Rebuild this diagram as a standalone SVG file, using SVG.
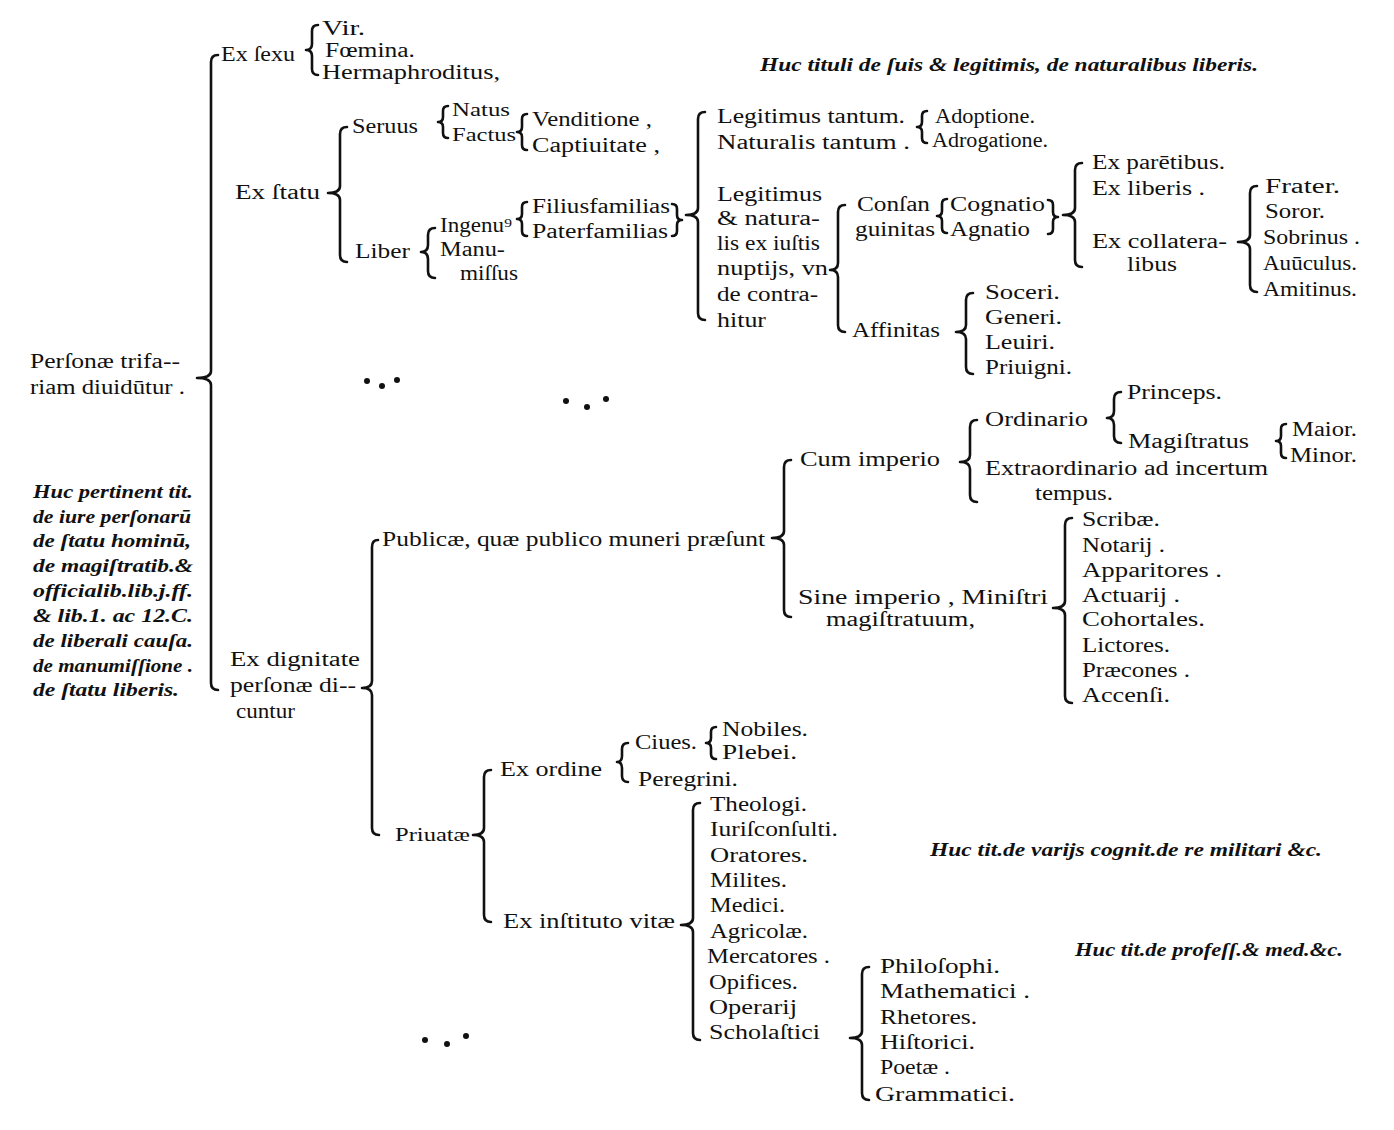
<svg xmlns="http://www.w3.org/2000/svg" width="1394" height="1130" viewBox="0 0 1394 1130">
<style>
text{font-family:"Liberation Serif","Times New Roman",serif;font-size:20px;fill:#111}
text.i{font-style:italic;font-weight:bold;font-size:18px}
text.s{font-size:18px}
#connectors path{fill:none;stroke:#111;stroke-width:2.6;stroke-linecap:round;stroke-linejoin:round}
.dot{fill:#111}
</style>
<rect width="1394" height="1130" fill="#fff"/>
<g id="connectors">
<path d="M218,55 Q211,55 211,62 L211,371 Q211,378 197,378 Q211,378 211,385 L211,683 Q211,690 218,690"/>
<path d="M318,25 Q312,25 312,31 L312,44 Q312,50 306,50 Q312,50 312,56 L312,69 Q312,75 318,75"/>
<path d="M347,127 Q340,127 340,134 L340,186 Q340,193 328,193 Q340,193 340,200 L340,255 Q340,262 347,262"/>
<path d="M448,106 Q443,106 443,111 L443,117 Q443,122 438,122 Q443,122 443,127 L443,133 Q443,138 448,138"/>
<path d="M527,114 Q522,114 522,119 L522,127 Q522,132 517,132 Q522,132 522,137 L522,145 Q522,150 527,150"/>
<path d="M435,228 Q428,228 428,235 L428,245 Q428,252 421,252 Q428,252 428,259 L428,271 Q428,278 435,278"/>
<path d="M527,202 Q522,202 522,207 L522,214 Q522,219 517,219 Q522,219 522,224 L522,231 Q522,236 527,236"/>
<path d="M672,204 Q677,204 677,209 L677,215 Q677,220 682,220 Q677,220 677,225 L677,231 Q677,236 672,236"/>
<path d="M705,112 Q698,112 698,119 L698,208 Q698,215 686,215 Q698,215 698,222 L698,313 Q698,320 705,320"/>
<path d="M927,111 Q922,111 922,116 L922,122 Q922,127 917,127 Q922,127 922,132 L922,138 Q922,143 927,143"/>
<path d="M845,205 Q838,205 838,212 L838,263 Q838,270 830,270 Q838,270 838,277 L838,325 Q838,332 845,332"/>
<path d="M947,199 Q942,199 942,204 L942,211 Q942,216 937,216 Q942,216 942,221 L942,228 Q942,233 947,233"/>
<path d="M1048,200 Q1053,200 1053,205 L1053,212 Q1053,217 1058,217 Q1053,217 1053,222 L1053,229 Q1053,234 1048,234"/>
<path d="M1082,163 Q1075,163 1075,170 L1075,208 Q1075,215 1063,215 Q1075,215 1075,222 L1075,260 Q1075,267 1082,267"/>
<path d="M1257,186 Q1250,186 1250,193 L1250,235 Q1250,242 1238,242 Q1250,242 1250,249 L1250,285 Q1250,292 1257,292"/>
<path d="M973,293 Q966,293 966,300 L966,325 Q966,332 956,332 Q966,332 966,339 L966,367 Q966,374 973,374"/>
<path d="M1121,392 Q1114,392 1114,399 L1114,411 Q1114,418 1107,418 Q1114,418 1114,425 L1114,436 Q1114,443 1121,443"/>
<path d="M977,420 Q970,420 970,427 L970,455 Q970,462 960,462 Q970,462 970,469 L970,495 Q970,502 977,502"/>
<path d="M1286,424 Q1281,424 1281,429 L1281,436 Q1281,441 1276,441 Q1281,441 1281,446 L1281,453 Q1281,458 1286,458"/>
<path d="M791,460 Q784,460 784,467 L784,531 Q784,538 772,538 Q784,538 784,545 L784,610 Q784,617 791,617"/>
<path d="M1072,518 Q1065,518 1065,525 L1065,601 Q1065,608 1053,608 Q1065,608 1065,615 L1065,696 Q1065,703 1072,703"/>
<path d="M378,540 Q372,540 372,547 L372,681 Q372,688 362,688 Q372,688 372,695 L372,828 Q372,835 379,835"/>
<path d="M491,770 Q484,770 484,777 L484,828 Q484,835 473,835 Q484,835 484,842 L484,915 Q484,922 491,922"/>
<path d="M628,743 Q622,743 622,749 L622,756 Q622,762 617,762 Q622,762 622,768 L622,776 Q622,782 628,782"/>
<path d="M716,727 Q711,727 711,732 L711,738 Q711,743 706,743 Q711,743 711,748 L711,754 Q711,759 716,759"/>
<path d="M700,803 Q693,803 693,810 L693,918 Q693,925 681,925 Q693,925 693,932 L693,1033 Q693,1040 700,1040"/>
<path d="M869,967 Q862,967 862,974 L862,1031 Q862,1038 850,1038 Q862,1038 862,1045 L862,1093 Q862,1100 869,1100"/>
</g>
<g id="dots">
<circle class="dot" cx="367" cy="381" r="3"/><circle class="dot" cx="382" cy="386" r="3"/><circle class="dot" cx="397" cy="380" r="3"/>
<circle class="dot" cx="566" cy="401" r="3"/><circle class="dot" cx="587" cy="407" r="3"/><circle class="dot" cx="606" cy="399" r="3"/>
<circle class="dot" cx="425" cy="1040" r="3"/><circle class="dot" cx="447" cy="1044" r="3"/><circle class="dot" cx="466" cy="1036" r="3"/>
</g>
<g id="root"><text x="30" y="368" textLength="150" lengthAdjust="spacingAndGlyphs">Perſonæ trifa--</text><text x="30" y="394" textLength="155" lengthAdjust="spacingAndGlyphs">riam diuidūtur .</text></g>
<g id="note-left">
<text class="i" x="33" y="498" textLength="160" lengthAdjust="spacingAndGlyphs">Huc pertinent tit.</text>
<text class="i" x="33" y="523" textLength="158" lengthAdjust="spacingAndGlyphs">de iure perſonarū</text>
<text class="i" x="33" y="547" textLength="158" lengthAdjust="spacingAndGlyphs">de ſtatu hominū,</text>
<text class="i" x="33" y="572" textLength="160" lengthAdjust="spacingAndGlyphs">de magiſtratib.&amp;</text>
<text class="i" x="33" y="597" textLength="160" lengthAdjust="spacingAndGlyphs">officialib.lib.j.ff.</text>
<text class="i" x="33" y="622" textLength="160" lengthAdjust="spacingAndGlyphs">&amp; lib.1. ac 12.C.</text>
<text class="i" x="33" y="647" textLength="160" lengthAdjust="spacingAndGlyphs">de liberali cauſa.</text>
<text class="i" x="33" y="672" textLength="160" lengthAdjust="spacingAndGlyphs">de manumiſſione .</text>
<text class="i" x="33" y="696" textLength="146" lengthAdjust="spacingAndGlyphs">de ſtatu liberis.</text>
</g>
<g id="ex-sexu"><text x="221" y="61" textLength="74" lengthAdjust="spacingAndGlyphs">Ex ſexu</text></g>
<g id="sexus">
<text x="322" y="35" textLength="43" lengthAdjust="spacingAndGlyphs">Vir.</text>
<text x="325" y="57" textLength="90" lengthAdjust="spacingAndGlyphs">Fœmina.</text>
<text x="322" y="79" textLength="178" lengthAdjust="spacingAndGlyphs">Hermaphroditus,</text>
</g>
<g id="note-top"><text class="i" x="760" y="71" textLength="498" lengthAdjust="spacingAndGlyphs">Huc tituli de ſuis &amp; legitimis, de naturalibus liberis.</text></g>
<g id="ex-statu"><text x="235" y="199" textLength="85" lengthAdjust="spacingAndGlyphs">Ex ſtatu</text></g>
<g id="seruus"><text x="352" y="133" textLength="66" lengthAdjust="spacingAndGlyphs">Seruus</text></g>
<g id="natus-factus">
<text class="s" x="452" y="116" textLength="58" lengthAdjust="spacingAndGlyphs">Natus</text>
<text class="s" x="452" y="141" textLength="64" lengthAdjust="spacingAndGlyphs">Factus</text>
</g>
<g id="venditione">
<text x="532" y="126" textLength="120" lengthAdjust="spacingAndGlyphs">Venditione ,</text>
<text x="532" y="152" textLength="128" lengthAdjust="spacingAndGlyphs">Captiuitate ,</text>
</g>
<g id="liber"><text x="355" y="258" textLength="55" lengthAdjust="spacingAndGlyphs">Liber</text></g>
<g id="ingenuus">
<text x="440" y="232" textLength="72" lengthAdjust="spacingAndGlyphs">Ingenu⁹</text>
<text x="440" y="256" textLength="65" lengthAdjust="spacingAndGlyphs">Manu-</text>
<text x="460" y="280" textLength="58" lengthAdjust="spacingAndGlyphs">miſſus</text>
</g>
<g id="familias">
<text x="532" y="213" textLength="138" lengthAdjust="spacingAndGlyphs">Filiusfamilias</text>
<text x="532" y="238" textLength="136" lengthAdjust="spacingAndGlyphs">Paterfamilias</text>
</g>
<g id="legitimus">
<text x="717" y="123" textLength="188" lengthAdjust="spacingAndGlyphs">Legitimus tantum.</text>
<text x="717" y="149" textLength="193" lengthAdjust="spacingAndGlyphs">Naturalis tantum .</text>
</g>
<g id="adoptione">
<text x="935" y="123" textLength="100" lengthAdjust="spacingAndGlyphs">Adoptione.</text>
<text x="932" y="147" textLength="116" lengthAdjust="spacingAndGlyphs">Adrogatione.</text>
</g>
<g id="legitimus-naturalis">
<text x="717" y="201" textLength="105" lengthAdjust="spacingAndGlyphs">Legitimus</text>
<text x="717" y="225" textLength="103" lengthAdjust="spacingAndGlyphs">&amp; natura-</text>
<text x="717" y="250" textLength="103" lengthAdjust="spacingAndGlyphs">lis ex iuſtis</text>
<text x="717" y="275" textLength="111" lengthAdjust="spacingAndGlyphs">nuptijs, vn</text>
<text x="717" y="301" textLength="101" lengthAdjust="spacingAndGlyphs">de contra-</text>
<text x="717" y="327" textLength="49" lengthAdjust="spacingAndGlyphs">hitur</text>
</g>
<g id="consanguinitas">
<text x="857" y="211" textLength="73" lengthAdjust="spacingAndGlyphs">Conſan</text>
<text x="855" y="236" textLength="80" lengthAdjust="spacingAndGlyphs">guinitas</text>
</g>
<g id="cognatio">
<text x="950" y="211" textLength="95" lengthAdjust="spacingAndGlyphs">Cognatio</text>
<text x="950" y="236" textLength="80" lengthAdjust="spacingAndGlyphs">Agnatio</text>
</g>
<g id="ex-parentibus">
<text x="1092" y="169" textLength="133" lengthAdjust="spacingAndGlyphs">Ex parētibus.</text>
<text x="1092" y="195" textLength="113" lengthAdjust="spacingAndGlyphs">Ex liberis .</text>
<text x="1092" y="248" textLength="135" lengthAdjust="spacingAndGlyphs">Ex collatera-</text>
<text x="1127" y="271" textLength="50" lengthAdjust="spacingAndGlyphs">libus</text>
</g>
<g id="frater">
<text x="1265" y="193" textLength="75" lengthAdjust="spacingAndGlyphs">Frater.</text>
<text x="1265" y="218" textLength="60" lengthAdjust="spacingAndGlyphs">Soror.</text>
<text x="1263" y="244" textLength="97" lengthAdjust="spacingAndGlyphs">Sobrinus .</text>
<text x="1263" y="270" textLength="94" lengthAdjust="spacingAndGlyphs">Auūculus.</text>
<text x="1263" y="296" textLength="94" lengthAdjust="spacingAndGlyphs">Amitinus.</text>
</g>
<g id="affinitas"><text x="852" y="337" textLength="88" lengthAdjust="spacingAndGlyphs">Affinitas</text></g>
<g id="soceri">
<text x="985" y="299" textLength="75" lengthAdjust="spacingAndGlyphs">Soceri.</text>
<text x="985" y="324" textLength="77" lengthAdjust="spacingAndGlyphs">Generi.</text>
<text x="985" y="349" textLength="70" lengthAdjust="spacingAndGlyphs">Leuiri.</text>
<text x="985" y="374" textLength="87" lengthAdjust="spacingAndGlyphs">Priuigni.</text>
</g>
<g id="ex-dignitate">
<text x="230" y="666" textLength="130" lengthAdjust="spacingAndGlyphs">Ex dignitate</text>
<text x="230" y="692" textLength="126" lengthAdjust="spacingAndGlyphs">perſonæ di--</text>
<text x="236" y="718" textLength="59" lengthAdjust="spacingAndGlyphs">cuntur</text>
</g>
<g id="publicae"><text x="382" y="546" textLength="383" lengthAdjust="spacingAndGlyphs">Publicæ, quæ publico muneri præſunt</text></g>
<g id="cum-imperio"><text x="800" y="466" textLength="140" lengthAdjust="spacingAndGlyphs">Cum imperio</text></g>
<g id="ordinario"><text x="985" y="426" textLength="103" lengthAdjust="spacingAndGlyphs">Ordinario</text></g>
<g id="princeps">
<text x="1127" y="399" textLength="95" lengthAdjust="spacingAndGlyphs">Princeps.</text>
<text x="1128" y="448" textLength="121" lengthAdjust="spacingAndGlyphs">Magiſtratus</text>
</g>
<g id="maior">
<text x="1292" y="436" textLength="65" lengthAdjust="spacingAndGlyphs">Maior.</text>
<text x="1290" y="462" textLength="67" lengthAdjust="spacingAndGlyphs">Minor.</text>
</g>
<g id="extraordinario">
<text x="985" y="475" textLength="283" lengthAdjust="spacingAndGlyphs">Extraordinario ad incertum</text>
<text x="1035" y="500" textLength="78" lengthAdjust="spacingAndGlyphs">tempus.</text>
</g>
<g id="sine-imperio">
<text x="798" y="604" textLength="250" lengthAdjust="spacingAndGlyphs">Sine imperio , Miniſtri</text>
<text x="826" y="626" textLength="149" lengthAdjust="spacingAndGlyphs">magiſtratuum,</text>
</g>
<g id="ministri">
<text x="1082" y="526" textLength="78" lengthAdjust="spacingAndGlyphs">Scribæ.</text>
<text x="1082" y="552" textLength="83" lengthAdjust="spacingAndGlyphs">Notarij .</text>
<text x="1082" y="577" textLength="140" lengthAdjust="spacingAndGlyphs">Apparitores .</text>
<text x="1082" y="602" textLength="98" lengthAdjust="spacingAndGlyphs">Actuarij .</text>
<text x="1082" y="626" textLength="123" lengthAdjust="spacingAndGlyphs">Cohortales.</text>
<text x="1082" y="652" textLength="88" lengthAdjust="spacingAndGlyphs">Lictores.</text>
<text x="1082" y="677" textLength="108" lengthAdjust="spacingAndGlyphs">Præcones .</text>
<text x="1082" y="702" textLength="88" lengthAdjust="spacingAndGlyphs">Accenſi.</text>
</g>
<g id="priuatae"><text class="s" x="395" y="841" textLength="75" lengthAdjust="spacingAndGlyphs">Priuatæ</text></g>
<g id="ex-ordine"><text x="500" y="776" textLength="102" lengthAdjust="spacingAndGlyphs">Ex ordine</text></g>
<g id="ciues">
<text x="635" y="749" textLength="62" lengthAdjust="spacingAndGlyphs">Ciues.</text>
<text x="638" y="786" textLength="100" lengthAdjust="spacingAndGlyphs">Peregrini.</text>
</g>
<g id="nobiles">
<text x="722" y="736" textLength="86" lengthAdjust="spacingAndGlyphs">Nobiles.</text>
<text x="722" y="759" textLength="75" lengthAdjust="spacingAndGlyphs">Plebei.</text>
</g>
<g id="ex-instituto"><text x="503" y="928" textLength="172" lengthAdjust="spacingAndGlyphs">Ex inſtituto vitæ</text></g>
<g id="professiones">
<text x="710" y="811" textLength="97" lengthAdjust="spacingAndGlyphs">Theologi.</text>
<text x="710" y="836" textLength="128" lengthAdjust="spacingAndGlyphs">Iuriſconſulti.</text>
<text x="710" y="862" textLength="98" lengthAdjust="spacingAndGlyphs">Oratores.</text>
<text x="710" y="887" textLength="77" lengthAdjust="spacingAndGlyphs">Milites.</text>
<text x="710" y="912" textLength="75" lengthAdjust="spacingAndGlyphs">Medici.</text>
<text x="710" y="938" textLength="98" lengthAdjust="spacingAndGlyphs">Agricolæ.</text>
<text x="707" y="963" textLength="123" lengthAdjust="spacingAndGlyphs">Mercatores .</text>
<text x="709" y="989" textLength="89" lengthAdjust="spacingAndGlyphs">Opifices.</text>
<text x="709" y="1014" textLength="88" lengthAdjust="spacingAndGlyphs">Operarij</text>
<text x="709" y="1039" textLength="111" lengthAdjust="spacingAndGlyphs">Scholaſtici</text>
</g>
<g id="scholastici">
<text x="880" y="973" textLength="120" lengthAdjust="spacingAndGlyphs">Philoſophi.</text>
<text x="880" y="998" textLength="150" lengthAdjust="spacingAndGlyphs">Mathematici .</text>
<text x="880" y="1024" textLength="97" lengthAdjust="spacingAndGlyphs">Rhetores.</text>
<text x="880" y="1049" textLength="95" lengthAdjust="spacingAndGlyphs">Hiſtorici.</text>
<text x="880" y="1074" textLength="70" lengthAdjust="spacingAndGlyphs">Poetæ .</text>
<text x="875" y="1101" textLength="140" lengthAdjust="spacingAndGlyphs">Grammatici.</text>
</g>
<g id="note-militari"><text class="i" x="930" y="856" textLength="392" lengthAdjust="spacingAndGlyphs">Huc tit.de varijs cognit.de re militari &amp;c.</text></g>
<g id="note-profess"><text class="i" x="1075" y="956" textLength="268" lengthAdjust="spacingAndGlyphs">Huc tit.de profeſſ.&amp; med.&amp;c.</text></g>
</svg>
